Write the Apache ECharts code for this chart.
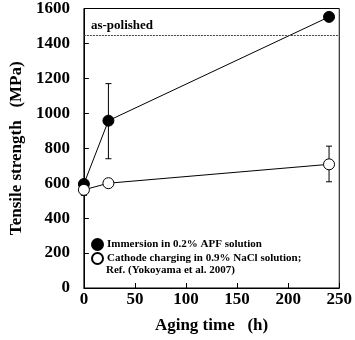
<!DOCTYPE html>
<html><head><meta charset="utf-8">
<script src="https://cdn.jsdelivr.net/npm/echarts@6/dist/echarts.min.js"></script>
<style>html,body{margin:0;padding:0;background:#fff}#c{width:355px;height:340px}</style>
</head><body><div id="c"></div>
<script>
var immersionX = [0, 24, 240];
var immersionY = [595, 958, 1552];
var immersionErr = [null, [740, 1170], null];
var cathodeX = [0, 24, 240];
var cathodeY = [562, 600, 708];
var cathodeErr = [[530, 590], null, [608, 812]];
var asPolished = 1448;
var xTicks = [0, 50, 100, 150, 200, 250];
var yTicks = [0, 200, 400, 600, 800, 1000, 1200, 1400, 1600];

var FONT = 'Liberation Serif';
function pairs(xs, ys){ return xs.map(function(x,i){return [x, ys[i]];}); }
function errData(xs, errs){ var d=[]; xs.forEach(function(x,i){ if(errs[i]) d.push([x, errs[i][0], errs[i][1]]); }); return d; }
function errSeries(data){
  return {type:'custom', silent:true, z:1, data:data, encode:{x:0,y:[1,2]},
    renderItem:function(params, api){
      var lo = api.coord([api.value(0), api.value(1)]);
      var hi = api.coord([api.value(0), api.value(2)]);
      var w = 3;
      var st = {stroke:'#000', lineWidth:1};
      return {type:'group', children:[
        {type:'line', shape:{x1:lo[0],y1:lo[1],x2:hi[0],y2:hi[1]}, style:st},
        {type:'line', shape:{x1:lo[0]-w,y1:lo[1],x2:lo[0]+w,y2:lo[1]}, style:st},
        {type:'line', shape:{x1:hi[0]-w,y1:hi[1],x2:hi[0]+w,y2:hi[1]}, style:st}
      ]};
    }};
}
var chart = echarts.init(document.getElementById('c'));
chart.setOption({
  animation:false,
  backgroundColor:'#fff',
  textStyle:{fontFamily:FONT},
  grid:{left:74, right:12, top:6, bottom:52, show:true, borderColor:'#000', borderWidth:1, backgroundColor:'transparent'},
  xAxis:{type:'value', min:xTicks[0], max:xTicks[xTicks.length-1], interval:50,
    name:'Aging time   (h)', nameLocation:'middle', nameGap:29,
    nameTextStyle:{fontFamily:FONT, fontWeight:'bold', fontSize:17, color:'#000'},
    axisLine:{lineStyle:{color:'#000'}}, axisTick:{inside:true, length:5, lineStyle:{color:'#000'}},
    axisLabel:{fontFamily:FONT, fontWeight:'bold', fontSize:17, color:'#000', margin:3, showMaxLabel:true, formatter:function(v){return String(v);}},
    splitLine:{show:false}},
  yAxis:{type:'value', min:yTicks[0], max:yTicks[yTicks.length-1], interval:200,
    name:'Tensile strength   (MPa)', nameLocation:'middle', nameGap:56, nameRotate:90,
    nameTextStyle:{fontFamily:FONT, fontWeight:'bold', fontSize:17, color:'#000'},
    axisLine:{lineStyle:{color:'#000'}}, axisTick:{inside:true, length:5, lineStyle:{color:'#000'}},
    axisLabel:{fontFamily:FONT, fontWeight:'bold', fontSize:17, color:'#000', margin:14, formatter:function(v){return String(v);}},
    splitLine:{show:false}},
  legend:{orient:'vertical', left:91, top:238, padding:0, itemWidth:11, itemHeight:11, itemGap:1,
    textStyle:{fontFamily:FONT, fontWeight:'bold', fontSize:11, color:'#000', padding:[0,0,0,-1]},
    data:[{name:'Immersion in 0.2% APF solution', icon:'circle'},
          {name:'Cathode charging in 0.9% NaCl solution;', icon:'circle'}]},
  graphic:[{type:'text', left:106, top:265, style:{text:'Ref. (Yokoyama et al. 2007)', font:'bold 11px "Liberation Serif"', fill:'#000'}}],
  series:[
    errSeries(errData(immersionX, immersionErr)),
    errSeries(errData(cathodeX, cathodeErr)),
    {name:'Immersion in 0.2% APF solution', type:'line', data:pairs(immersionX, immersionY), z:3,
      symbol:'circle', symbolSize:11, lineStyle:{color:'#000', width:1},
      itemStyle:{color:'#000', borderColor:'#000', borderWidth:1},
      markLine:{silent:true, symbol:'none', animation:false,
        lineStyle:{color:'#444', width:1, type:[2,1]},
        label:{show:true, position:'insideStartTop', distance:[7,3], formatter:'as-polished',
          fontFamily:FONT, fontWeight:'bold', fontSize:13, color:'#000'},
        emphasis:{disabled:true},
        data:[{yAxis:asPolished}]}},
    {name:'Cathode charging in 0.9% NaCl solution;', type:'line', data:pairs(cathodeX, cathodeY), z:4,
      symbol:'circle', symbolSize:11, lineStyle:{color:'#000', width:1},
      itemStyle:{color:'#fff', borderColor:'#000', borderWidth:1}}
  ]
});
</script></body></html>
